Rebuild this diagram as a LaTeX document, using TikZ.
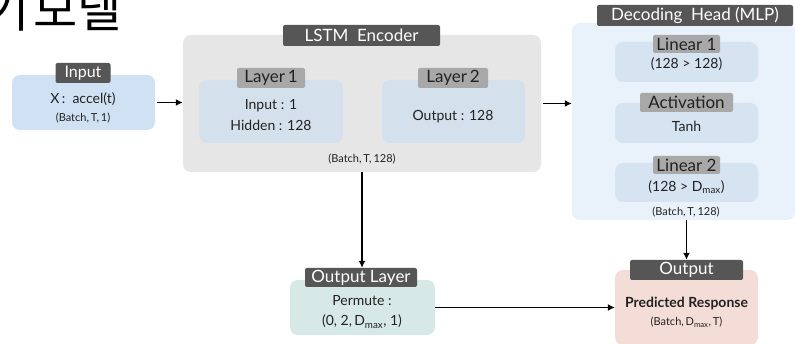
\documentclass[tikz,border=0pt]{standalone}
\usepackage{fontspec}
\setmainfont{Lato}
\newfontfamily\kor{Noto Sans CJK KR}
\usetikzlibrary{arrows.meta,positioning}

\definecolor{tabdark}{HTML}{565656}
\definecolor{tablight}{HTML}{A8A8A8}
\definecolor{txt}{HTML}{222222}
\definecolor{inblue}{HTML}{CFE1F2}
\definecolor{encgray}{HTML}{E6E6E6}
\definecolor{laybox}{HTML}{D4E0EB}
\definecolor{decbg}{HTML}{E9F1FA}
\definecolor{decbox}{HTML}{D6E3F1}
\definecolor{outteal}{HTML}{D7E9E6}
\definecolor{predpink}{HTML}{F4DDD6}

\tikzset{
  box/.style={rounded corners=8pt, inner sep=0pt, draw=none},
  darktab/.style={fill=tabdark, text=white, inner sep=0pt, rounded corners=2pt,
    font=\fontsize{16}{18}\selectfont},
  lighttab/.style={fill=tablight, text=txt, inner sep=0pt, rounded corners=2pt,
    font=\fontsize{17}{19}\selectfont},
  body/.style={text=txt, align=center, inner sep=0pt, font=\fontsize{14}{18}\selectfont},
  note/.style={text=txt, align=center, inner sep=0pt, font=\fontsize{11}{13}\selectfont},
  flow/.style={line width=1.8pt, -{Latex[length=7pt,width=7pt]}},
}

\begin{document}
\begin{tikzpicture}[x=1pt, y=-1pt]
    \useasboundingbox[fill=white] (0,0) rectangle (795,344);
    % Heading (cut at the edge)
    \node[anchor=base west, inner sep=0pt, font=\kor\fontsize{48}{50}\selectfont] (title) at (-14.8,27.5) {\spaceskip=4pt\relax 기 모델};

    % Input
    \node[box, fill=inblue, minimum width=143pt, minimum height=55pt] (input) at (83.5,102.5) {};
    \node[darktab, minimum width=55pt, minimum height=20pt] (intab) at (83,73) {Input};
    \node[body] (intxt) at (83,99) {X\,:\ \ accel(t)};
    \node[note] (insize) at (83,118) {(Batch,\,T,\,1)};

    % LSTM encoder
    \node[box, fill=encgray, minimum width=358pt, minimum height=137pt] (enc) at (362,103.5) {};
    \node[darktab, minimum width=157pt, minimum height=21pt, font=\fontsize{17}{19}\selectfont] (enctab) at (361.5,35.5) {LSTM\ \ Encoder};
    \node[box, fill=laybox, minimum width=144pt, minimum height=63pt] (lay1) at (271,111.5) {};
    \node[lighttab, minimum width=68pt, minimum height=20pt] (lay1tab) at (271,78) {Layer\,1};
    \node[body, font=\fontsize{14}{21}\selectfont] (lay1txt) at (271,115.5) {Input : 1\\Hidden : 128};
    \node[box, fill=laybox, minimum width=143pt, minimum height=63pt] (lay2) at (453.5,111.5) {};
    \node[lighttab, minimum width=70pt, minimum height=20pt] (lay2tab) at (453,78) {Layer\,2};
    \node[body] (lay2txt) at (453,117) {Output : 128};
    \node[note] (encsize) at (362,159) {(Batch,\,T,\,128)};

    % Decoding head
    \node[box, fill=decbg, minimum width=223pt, minimum height=197pt] (dec) at (683.5,121.5) {};
    \node[darktab, minimum width=196pt, minimum height=21pt, font=\fontsize{17}{19}\selectfont] (dectab) at (695,15.5) {Decoding\ \ Head (MLP)};
    \node[box, fill=decbox, minimum width=143pt, minimum height=40pt] (lin1) at (686.5,62) {};
    \node[lighttab, minimum width=67pt, minimum height=18pt] (lin1tab) at (686.5,44) {Linear 1};
    \node[body] (lin1txt) at (686.5,64) {(128 > 128)};
    \node[box, fill=decbox, minimum width=143pt, minimum height=40pt] (act) at (686.5,123) {};
    \node[lighttab, minimum width=93pt, minimum height=19pt] (acttab) at (686.5,102.5) {Activation};
    \node[body] (acttxt) at (686.5,126) {Tanh};
    \node[box, fill=decbox, minimum width=143pt, minimum height=39pt] (lin2) at (686.5,182.5) {};
    \node[lighttab, minimum width=67pt, minimum height=18pt] (lin2tab) at (686.5,165) {Linear 2};
    \node[body] (lin2txt) at (686.5,187) {(128 > D\textsubscript{max})};
    \node[note] (decsize) at (686,212) {(Batch,\,T,\,128)};

    % Output layer
    \node[box, fill=outteal, minimum width=145pt, minimum height=55pt] (outl) at (362.5,307.5) {};
    \node[darktab, minimum width=112pt, minimum height=19pt, font=\fontsize{17}{19}\selectfont] (outltab) at (361,277.5) {Output Layer};
    \node[body, font=\fontsize{14}{20}\selectfont] (outltxt) at (362,312) {Permute :\\(0, 2,\,D\textsubscript{max},\ 1)};

    % Predicted response
    \node[box, fill=predpink, minimum width=143pt, minimum height=75pt] (pred) at (686.5,307.5) {};
    \node[darktab, minimum width=113pt, minimum height=20pt, font=\fontsize{17}{19}\selectfont] (predtab) at (686.5,270) {Output};
    \node[body, font=\fontsize{14}{16}\selectfont\bfseries] (predtxt) at (686.5,303) {Predicted Response};
    \node[note] (predsize) at (686.5,322) {(Batch,\,D\textsubscript{max},\,T)};

    % Arrows
    \draw[flow, shorten <=2pt] (input.east) -- (input.east -| enc.west);
    \draw[flow, shorten <=2pt] (enc.east) -- (enc.east -| dec.west);
    \draw[flow] (enc.south) -- (outltab.north -| enc.south);
    \draw[flow] (predtab.north |- dec.south) -- (predtab.north);
    \draw[flow] (outl.east) -- (outl.east -| pred.west);
\end{tikzpicture}
\end{document}
